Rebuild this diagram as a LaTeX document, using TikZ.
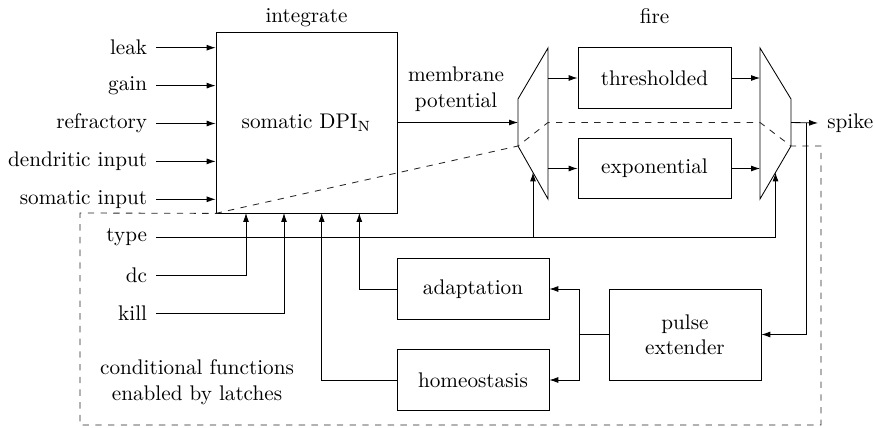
\documentclass[tikz,border=0pt]{standalone}
\usetikzlibrary{arrows.meta,calc}
\begin{document}
\begin{tikzpicture}[x=0.472pt,y=-0.472pt,
  >={Latex[length=4.2pt,width=2.8pt]},
  block/.style={draw, inner sep=0pt, align=center},
  inlabel/.style={anchor=east, inner xsep=4.2pt, inner ysep=0pt, outer sep=0pt},
  frame/.style={dashed, draw=black!85},
  title/.style={anchor=base}]
\useasboundingbox (0,0) rectangle (875,428);

% main blocks
\node[block, minimum width=85.4pt, minimum height=85.4pt] (soma) at (306.5,122.5) {somatic DPI$_{\mathrm{N}}$};
\node[block, minimum width=72.2pt, minimum height=28.4pt] (thr) at (654.5,78) {thresholded};
\node[block, minimum width=72.2pt, minimum height=28.4pt] (expo) at (654.5,168.5) {exponential};
\node[block, minimum width=71.7pt, minimum height=28.4pt] (adapt) at (473,289) {adaptation};
\node[block, minimum width=71.7pt, minimum height=28.4pt] (homeo) at (473,380) {homeostasis};
\node[block, minimum width=71.7pt, minimum height=43pt] (pulse) at (685,334.5) {pulse\\extender};

% section titles
\node[title] (integ) at (306.5,23) {integrate};
\node[title] (fire) at (654.5,24) {fire};
\node[align=center, inner sep=0pt] (memb) at (456,89) {membrane\\potential};
\node[align=center, inner sep=0pt] (cond) at (197,382) {conditional functions\\enabled by latches};

% multiplexers
\coordinate (m1tr) at (548,48);
\coordinate (m1tl) at (518,99);
\coordinate (m1bl) at (518,146);
\coordinate (m1br) at (548,199);
\coordinate (m2tl) at (760,48);
\coordinate (m2tr) at (791,99);
\coordinate (m2br) at (791,146);
\coordinate (m2bl) at (760,199);
\draw (m1tr) -- (m1tl) -- (m1bl) -- (m1br) -- cycle;
\draw (m2tl) -- (m2tr) -- (m2br) -- (m2bl) -- cycle;
\coordinate (m1in) at ($(m1tl)!0.5!(m1bl)$);
\coordinate (m1sel) at ($(m1bl)!0.5!(m1br)$);
\coordinate (m2out) at ($(m2tr)!0.5!(m2br)$);
\coordinate (m2sel) at ($(m2br)!0.5!(m2bl)$);

% left inputs
\node[inlabel] (leak) at (156,47.7) {leak};
\node[inlabel] (gain) at (156,85.6) {gain};
\node[inlabel] (refr) at (156,123.5) {refractory};
\node[inlabel] (dend) at (156,161.4) {dendritic input};
\node[inlabel] (sinp) at (156,199.3) {somatic input};
\foreach \n in {leak,gain,refr,dend,sinp}
  \draw[->] (\n.east) -- (\n.east -| soma.west);

% latch inputs
\node[inlabel] (type) at (156,237) {type};
\node[inlabel] (dc) at (156,275.5) {dc};
\node[inlabel] (kill) at (156,313) {kill};

% entry points on the lower edge of the soma
\coordinate (s1) at (246,213);
\coordinate (s2) at (284,213);
\coordinate (s3) at (321.7,213);
\coordinate (s4) at (359.3,213);

% dashed region of latch-controlled functions
\draw[frame] (soma.south west) -- (m1bl) -- (m1br |- m1in) -- (m2tl |- m1in)
  -- (m2br) -- (821,146) -- (821,425) -- (80,425) -- (80,213) -- cycle;

% integrate -> fire
\draw[->] (soma.east) -- (m1in);
\draw[->] (thr.west -| m1tr) -- (thr.west);
\draw[->] (expo.west -| m1tr) -- (expo.west);
\draw[->] (thr.east) -- (thr.east -| m2tl);
\draw[->] (expo.east) -- (expo.east -| m2tl);

% spike output
\node[anchor=west, inner xsep=4.2pt, inner ysep=0pt] (spike) at (818,123) {spike};
\draw[->] (m2out) -- (spike.west);
\coordinate (sp) at (806,123);
\draw[->] (sp) |- (pulse.east);

% selection lines
\draw[->] (type.east) -| (m2sel);
\draw[->] (m1sel |- type.east) -- (m1sel);
\draw[->] (dc.east) -| (s1);
\draw[->] (kill.east) -| (s2);
\draw[->] (homeo.west) -| (s3);
\draw[->] (adapt.west) -| (s4);

% pulse extender feedback
\coordinate (pj) at (579,334.5);
\draw (pulse.west) -- (pj);
\draw[->] (pj) |- (adapt.east);
\draw[->] (pj) |- (homeo.east);
\end{tikzpicture}
\end{document}
